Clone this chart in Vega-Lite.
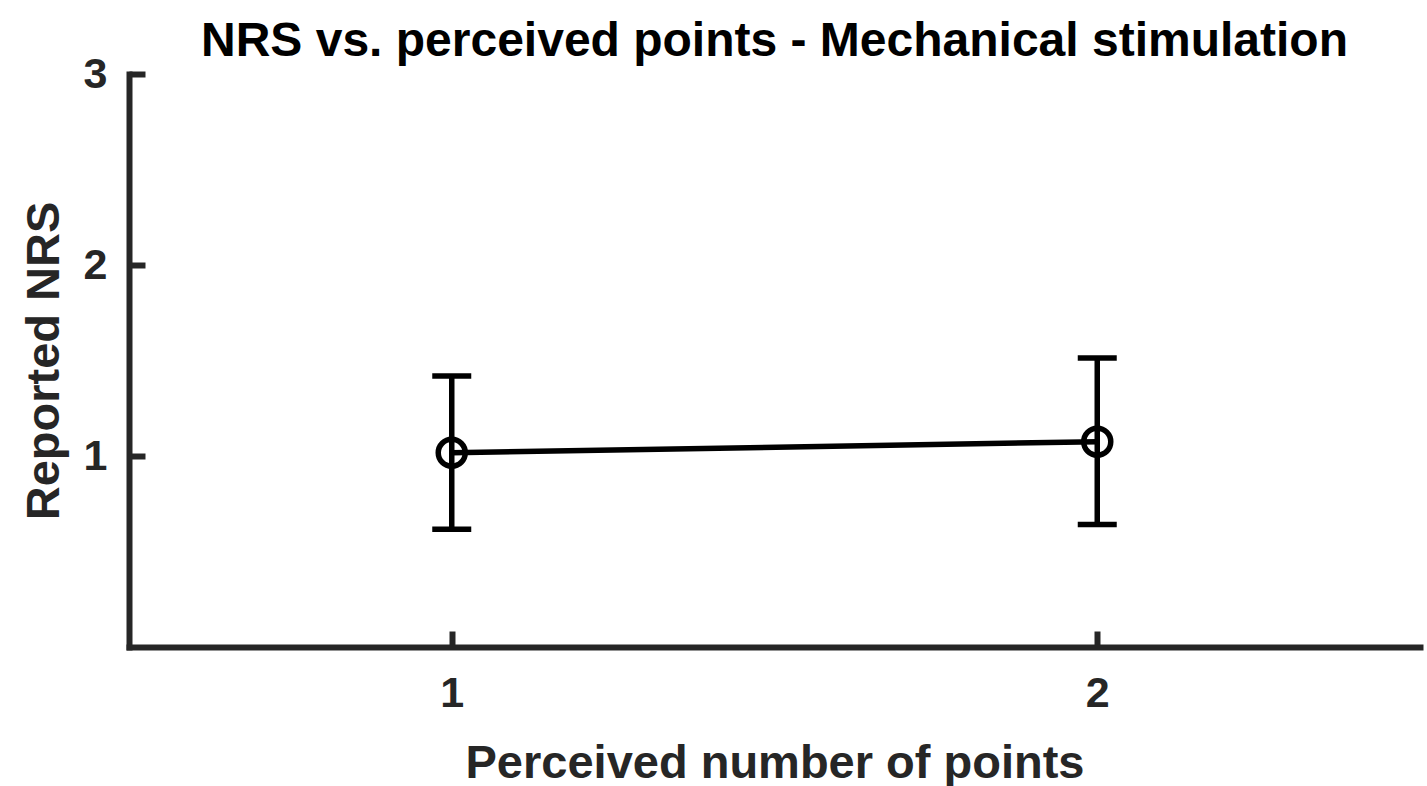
{
  "$schema": "https://vega.github.io/schema/vega-lite/v6.json",
  "autosize": {"type": "fit", "contains": "padding"},
  "width": 1427,
  "height": 786,
  "padding": {"left": 20, "top": 18, "right": 7, "bottom": 0},
  "background": "white",
  "config": {
    "view": {"stroke": null},
    "font": "Liberation Sans",
    "axis": {"grid": false}
  },
  "title": {
    "text": "NRS vs. perceived points - Mechanical stimulation",
    "font": "Liberation Sans",
    "fontSize": 48,
    "fontWeight": "bold",
    "color": "#000000",
    "anchor": "middle",
    "frame": "group",
    "baseline": "alphabetic",
    "offset": -51
  },
  "data": {
    "values": [
      {"points": 1, "nrs": 1.017, "lo": 0.616, "hi": 1.419},
      {"points": 2, "nrs": 1.075, "lo": 0.642, "hi": 1.513}
    ]
  },
  "encoding": {
    "x": {
      "field": "points",
      "type": "quantitative",
      "scale": {"domain": [0.5, 2.5], "nice": false, "zero": false},
      "axis": {
        "title": "Perceived number of points",
        "values": [1, 2],
        "format": "d",
        "domainColor": "#262626",
        "domainWidth": 6,
        "domainCap": "square",
        "tickColor": "#262626",
        "tickWidth": 6,
        "tickSize": -16,
        "labelFont": "Liberation Sans",
        "labelFontSize": 43,
        "labelFontWeight": "bold",
        "labelColor": "#262626",
        "labelPadding": 41,
        "titleFont": "Liberation Sans",
        "titleFontSize": 47,
        "titleFontWeight": "bold",
        "titleColor": "#262626",
        "titlePadding": 25
      }
    }
  },
  "layer": [
    {
      "mark": {"type": "rule", "color": "black", "strokeWidth": 5.5},
      "encoding": {
        "y": {"field": "lo", "type": "quantitative"},
        "y2": {"field": "hi"}
      }
    },
    {
      "mark": {"type": "tick", "orient": "horizontal", "size": 39, "thickness": 5.5, "color": "black", "opacity": 1},
      "encoding": {"y": {"field": "lo", "type": "quantitative"}}
    },
    {
      "mark": {"type": "tick", "orient": "horizontal", "size": 39, "thickness": 5.5, "color": "black", "opacity": 1},
      "encoding": {"y": {"field": "hi", "type": "quantitative"}}
    },
    {
      "mark": {"type": "line", "color": "black", "strokeWidth": 5.5},
      "encoding": {"y": {"field": "nrs", "type": "quantitative"}}
    },
    {
      "mark": {"type": "point", "shape": "circle", "filled": false, "size": 730, "strokeWidth": 5.5, "color": "black", "opacity": 1},
      "encoding": {
        "y": {
          "field": "nrs",
          "type": "quantitative",
          "scale": {"domain": [0, 3], "nice": false, "zero": true},
          "axis": {
            "title": "Reported NRS",
            "values": [1, 2, 3],
            "format": "d",
            "domainColor": "#262626",
            "domainWidth": 6,
            "domainCap": "square",
            "tickColor": "#262626",
            "tickWidth": 6,
            "tickSize": -16,
            "labelFont": "Liberation Sans",
            "labelFontSize": 43,
            "labelFontWeight": "bold",
            "labelColor": "#262626",
            "labelPadding": 38,
            "titleFont": "Liberation Sans",
            "titleFontSize": 47,
            "titleFontWeight": "bold",
            "titleColor": "#262626",
            "titlePadding": 15
          }
        }
      }
    }
  ],
  "resolve": {"scale": {"y": "shared"}}
}
